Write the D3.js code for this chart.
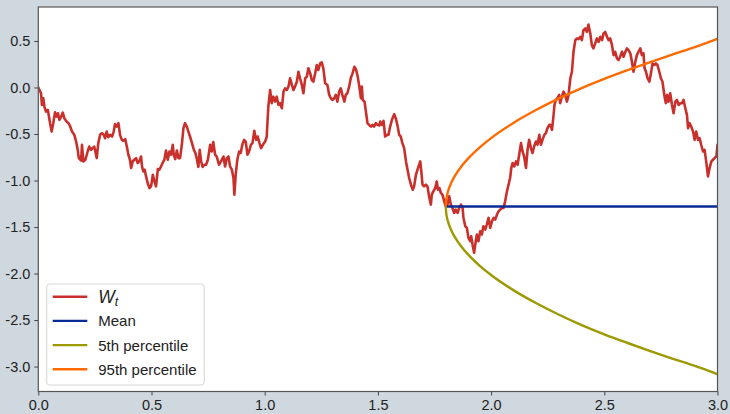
<!DOCTYPE html>
<html>
<head>
<meta charset="utf-8">
<script src="https://cdn.jsdelivr.net/npm/d3@7"></script>
<style>
  html, body { margin: 0; padding: 0; background: #cfd8de; }
  svg { display: block; font-family: "Liberation Sans", Arial, sans-serif; }
</style>
</head>
<body>
<svg id="chart" width="730" height="414"></svg>
<script>
// Sample path of the Brownian motion W_t
const pathTimes = [
  0, 0.012, 0.016, 0.022, 0.027, 0.034, 0.042, 0.046, 0.052, 0.059, 0.066, 0.074, 0.081, 0.087, 0.093, 0.100,
  0.108, 0.115, 0.125, 0.134, 0.141, 0.149, 0.159, 0.167, 0.174, 0.179, 0.189, 0.193, 0.199, 0.208, 0.218, 0.225,
  0.233, 0.240, 0.247, 0.252, 0.258, 0.265, 0.273, 0.281, 0.289, 0.295, 0.302, 0.309, 0.317, 0.326, 0.333, 0.339,
  0.346, 0.354, 0.361, 0.369, 0.376, 0.384, 0.391, 0.398, 0.405, 0.410, 0.417, 0.424, 0.432, 0.439, 0.446, 0.454,
  0.458, 0.464, 0.470, 0.476, 0.483, 0.491, 0.498, 0.506, 0.513, 0.520, 0.528, 0.535, 0.542, 0.550, 0.557, 0.564,
  0.572, 0.579, 0.586, 0.594, 0.598, 0.605, 0.612, 0.619, 0.626, 0.634, 0.641, 0.648, 0.656, 0.663, 0.670, 0.679,
  0.687, 0.694, 0.701, 0.707, 0.713, 0.719, 0.726, 0.734, 0.741, 0.749, 0.759, 0.766, 0.773, 0.781, 0.788, 0.798,
  0.807, 0.818, 0.825, 0.833, 0.840, 0.847, 0.855, 0.862, 0.866, 0.872, 0.879, 0.887, 0.894, 0.901, 0.909, 0.916,
  0.924, 0.931, 0.939, 0.946, 0.954, 0.962, 0.969, 0.977, 0.984, 0.992, 1.002, 1.009, 1.016, 1.024, 1.031, 1.038,
  1.046, 1.053, 1.061, 1.068, 1.076, 1.083, 1.090, 1.098, 1.105, 1.112, 1.120, 1.127, 1.134, 1.142, 1.149, 1.156,
  1.164, 1.171, 1.179, 1.186, 1.193, 1.201, 1.208, 1.215, 1.223, 1.230, 1.237, 1.245, 1.252, 1.259, 1.267, 1.277,
  1.285, 1.292, 1.299, 1.307, 1.314, 1.321, 1.329, 1.336, 1.343, 1.352, 1.358, 1.365, 1.373, 1.380, 1.388, 1.396,
  1.404, 1.411, 1.418, 1.425, 1.429, 1.433, 1.441, 1.448, 1.454, 1.461, 1.469, 1.476, 1.483, 1.491, 1.498, 1.506,
  1.510, 1.517, 1.525, 1.532, 1.540, 1.547, 1.554, 1.562, 1.572, 1.579, 1.586, 1.594, 1.601, 1.608, 1.616, 1.624,
  1.631, 1.638, 1.646, 1.654, 1.660, 1.668, 1.675, 1.682, 1.687, 1.691, 1.697, 1.704, 1.712, 1.719, 1.726, 1.734,
  1.738, 1.745, 1.753, 1.760, 1.765, 1.772, 1.778, 1.785, 1.793, 1.800, 1.807, 1.815, 1.822, 1.829, 1.837, 1.844,
  1.852, 1.859, 1.867, 1.874, 1.878, 1.886, 1.893, 1.900, 1.908, 1.912, 1.918, 1.925, 1.930, 1.937, 1.944, 1.952,
  1.959, 1.966, 1.974, 1.981, 1.989, 1.996, 2.004, 2.011, 2.018, 2.026, 2.033, 2.040, 2.048, 2.055, 2.062, 2.070,
  2.077, 2.084, 2.089, 2.095, 2.102, 2.110, 2.117, 2.124, 2.132, 2.139, 2.146, 2.154, 2.161, 2.168, 2.176, 2.183,
  2.190, 2.198, 2.205, 2.213, 2.220, 2.227, 2.235, 2.242, 2.249, 2.257, 2.261, 2.269, 2.276, 2.280, 2.286, 2.293,
  2.301, 2.305, 2.313, 2.320, 2.327, 2.335, 2.342, 2.350, 2.357, 2.364, 2.372, 2.379, 2.386, 2.394, 2.401, 2.408,
  2.416, 2.423, 2.430, 2.438, 2.445, 2.452, 2.460, 2.467, 2.475, 2.482, 2.490, 2.497, 2.504, 2.512, 2.519, 2.526,
  2.534, 2.541, 2.548, 2.556, 2.563, 2.570, 2.578, 2.585, 2.593, 2.600, 2.607, 2.615, 2.622, 2.629, 2.637, 2.644,
  2.651, 2.659, 2.666, 2.673, 2.678, 2.684, 2.691, 2.699, 2.706, 2.713, 2.721, 2.728, 2.735, 2.743, 2.750, 2.757,
  2.765, 2.772, 2.777, 2.784, 2.791, 2.799, 2.806, 2.814, 2.821, 2.828, 2.836, 2.843, 2.850, 2.858, 2.865, 2.870,
  2.877, 2.884, 2.892, 2.899, 2.906, 2.914, 2.921, 2.928, 2.936, 2.943, 2.950, 2.958, 2.965, 2.973, 2.980, 2.987,
  2.995, 3.000
];
const pathValues = [
  0.000, -0.062, -0.188, -0.116, -0.206, -0.259, -0.241, -0.295, -0.384, -0.474, -0.384, -0.266, -0.313, -0.277, -0.348, -0.319,
  -0.270, -0.330, -0.367, -0.384, -0.420, -0.474, -0.509, -0.581, -0.670, -0.759, -0.785, -0.616, -0.795, -0.777, -0.688, -0.635,
  -0.670, -0.652, -0.635, -0.688, -0.759, -0.598, -0.509, -0.491, -0.509, -0.545, -0.474, -0.534, -0.509, -0.527, -0.474, -0.394,
  -0.420, -0.384, -0.509, -0.563, -0.573, -0.555, -0.635, -0.723, -0.777, -0.866, -0.795, -0.777, -0.759, -0.812, -0.795, -0.742,
  -0.849, -0.902, -0.884, -0.956, -1.027, -1.081, -1.063, -0.938, -1.010, -1.063, -0.877, -0.884, -0.849, -0.806, -0.777, -0.677,
  -0.777, -0.688, -0.723, -0.616, -0.723, -0.770, -0.677, -0.759, -0.759, -0.616, -0.437, -0.384, -0.420, -0.474, -0.527, -0.598,
  -0.670, -0.705, -0.777, -0.855, -0.670, -0.795, -0.855, -0.831, -0.831, -0.777, -0.617, -0.688, -0.587, -0.723, -0.742, -0.831,
  -0.795, -0.742, -0.849, -0.759, -0.742, -0.849, -0.884, -0.973, -1.152, -0.938, -0.777, -0.688, -0.705, -0.616, -0.563, -0.581,
  -0.723, -0.688, -0.616, -0.598, -0.466, -0.563, -0.527, -0.598, -0.652, -0.616, -0.581, -0.527, -0.206, -0.027, -0.169, -0.099,
  -0.152, -0.099, -0.188, -0.169, -0.223, -0.045, -0.009, -0.027, 0.009, 0.099, 0.027, -0.027, 0.009, 0.062, 0.169, 0.099,
  0.027, -0.062, 0.099, 0.116, 0.206, 0.152, 0.080, 0.062, 0.152, 0.241, 0.188, 0.259, 0.270, 0.206, 0.045, 0.027,
  -0.080, -0.116, -0.134, -0.116, -0.080, -0.152, -0.045, -0.009, -0.080, -0.152, -0.080, -0.062, 0.009, 0.099, 0.152, 0.223,
  0.188, 0.116, 0.009, -0.116, 0.009, -0.134, -0.152, -0.277, -0.384, -0.402, -0.420, -0.402, -0.420, -0.384, -0.402, -0.409,
  -0.367, -0.402, -0.359, -0.527, -0.509, -0.509, -0.420, -0.348, -0.287, -0.330, -0.402, -0.509, -0.527, -0.598, -0.652, -0.795,
  -0.884, -0.973, -1.045, -1.099, -1.063, -0.938, -0.884, -0.831, -0.795, -0.884, -1.045, -1.063, -1.045, -1.063, -1.170, -1.259,
  -1.152, -1.117, -1.081, -1.010, -1.099, -1.081, -1.134, -1.152, -1.224, -1.280, -1.262, -1.170, -1.259, -1.295, -1.348, -1.313,
  -1.348, -1.295, -1.259, -1.295, -1.402, -1.492, -1.509, -1.616, -1.653, -1.599, -1.688, -1.777, -1.688, -1.581, -1.653, -1.546,
  -1.581, -1.492, -1.527, -1.474, -1.402, -1.509, -1.438, -1.402, -1.420, -1.367, -1.331, -1.313, -1.295, -1.295, -1.224, -1.117,
  -1.045, -0.973, -0.866, -0.812, -0.849, -0.795, -0.831, -0.723, -0.598, -0.688, -0.742, -0.866, -0.670, -0.563, -0.652, -0.705,
  -0.634, -0.581, -0.616, -0.509, -0.616, -0.563, -0.509, -0.491, -0.437, -0.402, -0.402, -0.455, -0.295, -0.188, -0.134, -0.116,
  -0.080, -0.169, -0.099, -0.045, -0.080, -0.152, -0.080, 0.099, 0.169, 0.384, 0.509, 0.527, 0.520, 0.545, 0.509, 0.616,
  0.634, 0.598, 0.677, 0.581, 0.455, 0.420, 0.474, 0.527, 0.491, 0.545, 0.509, 0.581, 0.598, 0.545, 0.509, 0.527,
  0.455, 0.348, 0.384, 0.313, 0.295, 0.330, 0.384, 0.330, 0.384, 0.420, 0.402, 0.367, 0.277, 0.169, 0.277, 0.348,
  0.384, 0.420, 0.348, 0.367, 0.206, 0.169, 0.099, 0.062, 0.152, 0.259, 0.241, 0.259, 0.241, 0.169, 0.099, 0.062,
  -0.080, -0.169, -0.080, -0.152, -0.062, -0.188, -0.277, -0.152, -0.134, -0.188, -0.169, -0.169, -0.134, -0.223, -0.295, -0.437,
  -0.384, -0.420, -0.474, -0.563, -0.474, -0.563, -0.545, -0.616, -0.688, -0.670, -0.795, -0.956, -0.866, -0.795, -0.777, -0.759,
  -0.742, -0.616
];

// Forecast from t = 1.8 onward: mean and percentile bands
const meanTimes = [1.8, 3.0];
const meanValues = [-1.28, -1.28];
const bandTimes = [1.800, 1.801, 1.805, 1.81, 1.82, 1.84, 1.87, 1.90, 1.95, 2.00, 2.10, 2.20, 2.30, 2.40, 2.50, 2.60, 2.70, 2.80, 2.90, 3.00];
const p95Values = [-1.280, -1.228, -1.164, -1.115, -1.047, -0.951, -0.845, -0.760, -0.643, -0.544, -0.379, -0.240, -0.117, -0.006, 0.093, 0.184, 0.271, 0.354, 0.433, 0.522];
const p5Values  = [-1.280, -1.332, -1.396, -1.445, -1.513, -1.609, -1.715, -1.800, -1.917, -2.016, -2.181, -2.320, -2.443, -2.554, -2.653, -2.744, -2.831, -2.914, -2.993, -3.082];

// Axis ticks
const xTickValues = [0, 0.5, 1.0, 1.5, 2.0, 2.5, 3.0];
const xTickLabels = ["0.0", "0.5", "1.0", "1.5", "2.0", "2.5", "3.0"];
const yTickValues = [0.5, 0, -0.5, -1.0, -1.5, -2.0, -2.5, -3.0];
const yTickLabels = ["0.5", "0.0", "-0.5", "-1.0", "-1.5", "-2.0", "-2.5", "-3.0"];

// Legend entries
const legendLabels = ["W_t", "Mean", "5th percentile", "95th percentile"];
const seriesColors = ["#c9302c", "#0a2a96", "#9c9a00", "#ff6a00"];

const W = 730, H = 414;
const margin = { top: 7, right: 12.5, bottom: 22.5, left: 38.3 };
const innerW = W - margin.left - margin.right;
const innerH = H - margin.top - margin.bottom;

const svg = d3.select("#chart");
const g = svg.append("g").attr("transform", `translate(${margin.left},${margin.top})`);

const x = d3.scaleLinear().domain([0, 3]).range([0, innerW]);
const y = d3.scaleLinear().domain([-3.268, 0.865]).range([innerH, 0]);

g.append("rect").attr("width", innerW).attr("height", innerH).attr("fill", "#ffffff");

const clip = svg.append("defs").append("clipPath").attr("id", "plot-clip");
clip.append("rect").attr("width", innerW).attr("height", innerH);

const plot = g.append("g").attr("clip-path", "url(#plot-clip)");

const linePath = d3.line().x(d => x(d[0])).y(d => y(d[1]));
const smoothPath = d3.line().x(d => x(d[0])).y(d => y(d[1])).curve(d3.curveMonotoneX);

plot.append("path")
  .datum(d3.zip(pathTimes, pathValues))
  .attr("fill", "none").attr("stroke", seriesColors[0])
  .attr("stroke-width", 2.6).attr("stroke-linejoin", "round").attr("stroke-linecap", "round")
  .attr("d", linePath);

plot.append("path")
  .datum(d3.zip(meanTimes, meanValues))
  .attr("fill", "none").attr("stroke", seriesColors[1]).attr("stroke-width", 2.4)
  .attr("d", linePath);

plot.append("path")
  .datum(d3.zip(bandTimes, p5Values))
  .attr("fill", "none").attr("stroke", seriesColors[2]).attr("stroke-width", 2.4)
  .attr("d", smoothPath);

plot.append("path")
  .datum(d3.zip(bandTimes, p95Values))
  .attr("fill", "none").attr("stroke", seriesColors[3]).attr("stroke-width", 2.4)
  .attr("d", smoothPath);

// Axes
const xAxis = d3.axisBottom(x).tickValues(xTickValues)
  .tickFormat((d, i) => xTickLabels[i]).tickSize(4).tickPadding(4);
const yAxis = d3.axisLeft(y).tickValues(yTickValues)
  .tickFormat((d, i) => yTickLabels[i]).tickSize(4).tickPadding(4);

const gx = g.append("g").attr("transform", `translate(0,${innerH})`).call(xAxis);
const gy = g.append("g").call(yAxis);
[gx, gy].forEach(a => {
  a.select(".domain").remove();
  a.selectAll(".tick line").attr("stroke", "#444").attr("stroke-width", 1);
  a.selectAll(".tick text").attr("fill", "#222").attr("font-size", 14.5)
    .attr("font-family", "'Liberation Sans', Arial, sans-serif");
});

// Frame
g.append("rect").attr("width", innerW).attr("height", innerH)
  .attr("fill", "none").attr("stroke", "#555").attr("stroke-width", 1.2);

// Legend
const lg = g.append("g").attr("transform", `translate(${46.7 - margin.left},${284 - margin.top})`);
lg.append("rect").attr("width", 157.5).attr("height", 101).attr("rx", 3)
  .attr("fill", "#ffffff").attr("fill-opacity", 0.85)
  .attr("stroke", "#d6d6d6").attr("stroke-width", 1);

legendLabels.forEach((label, i) => {
  const cy = 12.7 + i * 24.2;
  lg.append("line").attr("x1", 6).attr("x2", 40.6).attr("y1", cy).attr("y2", cy)
    .attr("stroke", seriesColors[i]).attr("stroke-width", 2.4);
  const t = lg.append("text").attr("x", 51.5).attr("y", cy + 5.5)
    .attr("fill", "#222").attr("font-size", 15);
  if (label === "W_t") {
    t.attr("y", cy + 6.3);
    t.append("tspan").attr("font-style", "italic").attr("font-size", 17.5).text("W");
    t.append("tspan").attr("font-style", "italic").attr("font-size", 12.5).attr("dy", 3).text("t");
  } else {
    t.text(label);
  }
});
</script>
</body>
</html>
